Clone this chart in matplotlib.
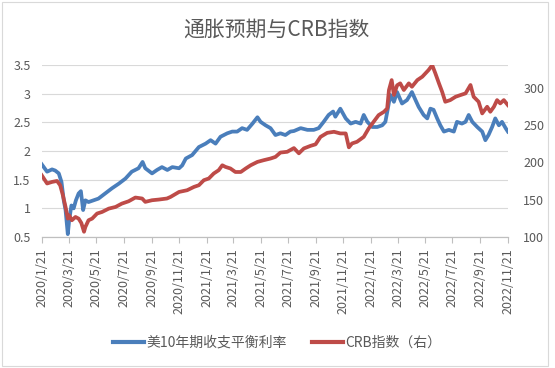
import matplotlib
matplotlib.use("Agg")
import matplotlib.pyplot as plt
import matplotlib.dates as mdates
from matplotlib.patches import Rectangle
from matplotlib.ticker import FixedLocator, FuncFormatter
import pandas as pd

plt.rcParams['font.family'] = ['Noto Sans CJK SC', 'DejaVu Sans']

title = "通胀预期与CRB指数"
label_bei = "美10年期收支平衡利率"
label_crb = "CRB指数（右）"

bei_dates = [
    "2020-01-21", "2020-02-02", "2020-02-13", "2020-02-20", "2020-02-28", "2020-03-05",
    "2020-03-10", "2020-03-14", "2020-03-19", "2020-03-22", "2020-03-27", "2020-04-01",
    "2020-04-06", "2020-04-12", "2020-04-17", "2020-04-22", "2020-04-27", "2020-05-04",
    "2020-05-15", "2020-05-26", "2020-06-10", "2020-06-25", "2020-07-10", "2020-07-25",
    "2020-08-08", "2020-08-23", "2020-09-01", "2020-09-07", "2020-09-22", "2020-10-03",
    "2020-10-14", "2020-10-26", "2020-11-06", "2020-11-21", "2020-11-28", "2020-12-06",
    "2020-12-20", "2021-01-04", "2021-01-19", "2021-01-30", "2021-02-10", "2021-02-21",
    "2021-03-08", "2021-03-19", "2021-03-30", "2021-04-10", "2021-04-21", "2021-05-03",
    "2021-05-14", "2021-05-21", "2021-06-01", "2021-06-12", "2021-06-23", "2021-07-04",
    "2021-07-15", "2021-07-26", "2021-08-03", "2021-08-18", "2021-09-02", "2021-09-16",
    "2021-09-27", "2021-10-08", "2021-10-19", "2021-10-29", "2021-11-03", "2021-11-14",
    "2021-11-26", "2021-12-07", "2021-12-18", "2021-12-29", "2022-01-05", "2022-01-13",
    "2022-01-24", "2022-02-04", "2022-02-15", "2022-02-22", "2022-02-27", "2022-03-05",
    "2022-03-13", "2022-03-20", "2022-03-31", "2022-04-11", "2022-04-22", "2022-04-30",
    "2022-05-07", "2022-05-18", "2022-05-26", "2022-06-02", "2022-06-09", "2022-06-17",
    "2022-06-24", "2022-07-02", "2022-07-13", "2022-07-24", "2022-07-31", "2022-08-11",
    "2022-08-19", "2022-08-26", "2022-09-03", "2022-09-14", "2022-09-25", "2022-10-02",
    "2022-10-09", "2022-10-17", "2022-10-24", "2022-11-01", "2022-11-08", "2022-11-16",
    "2022-11-21",
]
bei_values = [
    1.77, 1.64, 1.68, 1.66, 1.61, 1.46,
    1.14, 0.97, 0.55, 0.79, 1.05, 1.00,
    1.14, 1.26, 1.30, 0.97, 1.14, 1.11,
    1.14, 1.17, 1.26, 1.35, 1.43, 1.52,
    1.64, 1.70, 1.81, 1.70, 1.61, 1.67,
    1.72, 1.67, 1.72, 1.70, 1.75, 1.87,
    1.93, 2.07, 2.13, 2.19, 2.13, 2.25,
    2.31, 2.34, 2.34, 2.40, 2.37, 2.48,
    2.59, 2.51, 2.45, 2.40, 2.28, 2.31,
    2.28, 2.34, 2.35, 2.40, 2.37, 2.37,
    2.40, 2.51, 2.63, 2.69, 2.60, 2.74,
    2.57, 2.48, 2.51, 2.48, 2.63, 2.51,
    2.42, 2.42, 2.45, 2.51, 2.72, 2.98,
    2.86, 3.03, 2.83, 2.89, 3.03, 2.89,
    2.77, 2.63, 2.57, 2.74, 2.72, 2.57,
    2.45, 2.34, 2.37, 2.34, 2.51, 2.48,
    2.51, 2.63, 2.51, 2.42, 2.34, 2.19,
    2.28, 2.42, 2.57, 2.45, 2.51, 2.40,
    2.34,
]

crb_dates = [
    "2020-01-21", "2020-02-02", "2020-02-13", "2020-02-24", "2020-03-02", "2020-03-08",
    "2020-03-14", "2020-03-19", "2020-03-22", "2020-03-28", "2020-04-05", "2020-04-12",
    "2020-04-18", "2020-04-24", "2020-04-27", "2020-05-04", "2020-05-12", "2020-05-23",
    "2020-06-03", "2020-06-18", "2020-07-03", "2020-07-17", "2020-08-01", "2020-08-16",
    "2020-08-31", "2020-09-07", "2020-09-22", "2020-10-07", "2020-10-25", "2020-11-02",
    "2020-11-21", "2020-12-09", "2020-12-24", "2021-01-04", "2021-01-15", "2021-01-26",
    "2021-02-06", "2021-02-17", "2021-02-25", "2021-03-04", "2021-03-15", "2021-03-26",
    "2021-04-07", "2021-04-18", "2021-04-29", "2021-05-14", "2021-05-28", "2021-06-12",
    "2021-06-23", "2021-07-04", "2021-07-19", "2021-08-03", "2021-08-14", "2021-08-25",
    "2021-09-09", "2021-09-20", "2021-10-01", "2021-10-16", "2021-10-31", "2021-11-14",
    "2021-11-26", "2021-12-03", "2021-12-10", "2021-12-21", "2022-01-05", "2022-01-16",
    "2022-01-27", "2022-02-07", "2022-02-19", "2022-02-26", "2022-03-02", "2022-03-08",
    "2022-03-13", "2022-03-20", "2022-03-27", "2022-04-04", "2022-04-15", "2022-04-22",
    "2022-05-04", "2022-05-15", "2022-05-22", "2022-05-29", "2022-06-06", "2022-06-13",
    "2022-06-21", "2022-06-28", "2022-07-05", "2022-07-16", "2022-07-28", "2022-08-08",
    "2022-08-19", "2022-08-30", "2022-09-06", "2022-09-17", "2022-09-25", "2022-10-06",
    "2022-10-13", "2022-10-21", "2022-10-28", "2022-11-04", "2022-11-12", "2022-11-21",
]
crb_values = [
    182.7, 171.6, 173.7, 175.0, 169.3, 156.0,
    140.2, 124.6, 129.0, 122.4, 126.8, 124.6,
    118.8, 107.0, 113.4, 122.4, 124.6, 131.4,
    133.5, 138.0, 140.2, 144.7, 147.8, 152.8,
    151.5, 147.0, 149.2, 150.1, 151.5, 153.6,
    160.3, 162.6, 167.0, 169.3, 176.0, 178.3,
    185.0, 189.4, 196.0, 193.8, 191.7, 187.0,
    187.0, 191.7, 196.0, 200.5, 202.8, 205.0,
    207.2, 213.0, 214.0, 219.0, 212.0, 218.5,
    222.0, 224.0, 234.0, 239.4, 240.8, 238.6,
    238.6, 220.0, 225.2, 227.4, 234.0, 245.3,
    254.2, 263.1, 267.6, 272.0, 296.7, 310.0,
    290.0, 303.0, 305.6, 296.7, 305.6, 301.1,
    310.0, 314.5, 319.0, 323.5, 330.0, 319.0,
    305.6, 294.4, 281.0, 283.2, 287.7, 290.0,
    292.2, 303.4, 287.7, 281.0, 265.4, 274.3,
    267.6, 274.3, 283.2, 278.8, 283.2, 276.5,
]

x_start = "2020-01-21"
x_end = "2022-11-21"
left_ticks = [0.5, 1, 1.5, 2, 2.5, 3, 3.5]
right_ticks = [100, 150, 200, 250, 300]

blue = "#4a7ebb"
red = "#be4b48"
txt = "#595959"
grid = "#d9d9d9"

fig = plt.figure(figsize=(5.55, 3.68), dpi=100)
fig.patches.append(Rectangle((0.003, 0.005), 0.984, 0.99, transform=fig.transFigure,
                             fill=False, edgecolor="#d9d9d9", linewidth=0.8))

ax = fig.add_axes([0.0751, 0.356, 0.840, 0.467])
ax2 = ax.twinx()

bd = pd.to_datetime(bei_dates)
cd = pd.to_datetime(crb_dates)
ax.plot(bd, bei_values, color=blue, lw=2.7, solid_joinstyle="round", zorder=3)
ax2.plot(cd, crb_values, color=red, lw=2.7, solid_joinstyle="round", zorder=3)

ax.set_xlim(pd.Timestamp(x_start), pd.Timestamp(x_end))
ax.set_ylim(0.5, 3.5)
ax2.set_ylim(100, 330)

xt = pd.date_range(x_start, x_end, freq=pd.DateOffset(months=2))
ax.xaxis.set_major_locator(FixedLocator(mdates.date2num(xt)))
ax.set_xticklabels([f"{d.year}/{d.month}/{d.day}" for d in xt], rotation=90,
                   fontsize=9, color=txt)

ax.set_yticks(left_ticks)
ax.yaxis.set_major_formatter(FuncFormatter(lambda v, p: f"{v:g}"))
ax2.set_yticks(right_ticks)

ax.tick_params(axis="y", length=0, pad=8, labelsize=9, labelcolor=txt)
ax2.tick_params(axis="y", length=0, pad=11, labelsize=9, labelcolor=txt)
ax.tick_params(axis="x", length=4, width=0.8, color="#bfbfbf", pad=4, direction="out")

ax.grid(axis="y", color=grid, lw=0.8)
ax.set_axisbelow(True)
for a in (ax, ax2):
    for s in ("left", "right", "top"):
        a.spines[s].set_visible(False)
    a.spines["bottom"].set_color("#bfbfbf")
    a.spines["bottom"].set_linewidth(0.8)

fig.text(0.498, 0.918, title, ha="center", va="center", fontsize=15, color=txt)

h1, = ax.plot([], [], color=blue, lw=3)
h2, = ax.plot([], [], color=red, lw=3)
fig.legend([h1, h2], [label_bei, label_crb], loc="center", bbox_to_anchor=(0.5, 0.068),
           ncol=2, frameon=False, fontsize=10, labelcolor=txt, handlelength=2.2,
           handletextpad=0.2, columnspacing=1.8)

fig.savefig("out.png", dpi=100)
